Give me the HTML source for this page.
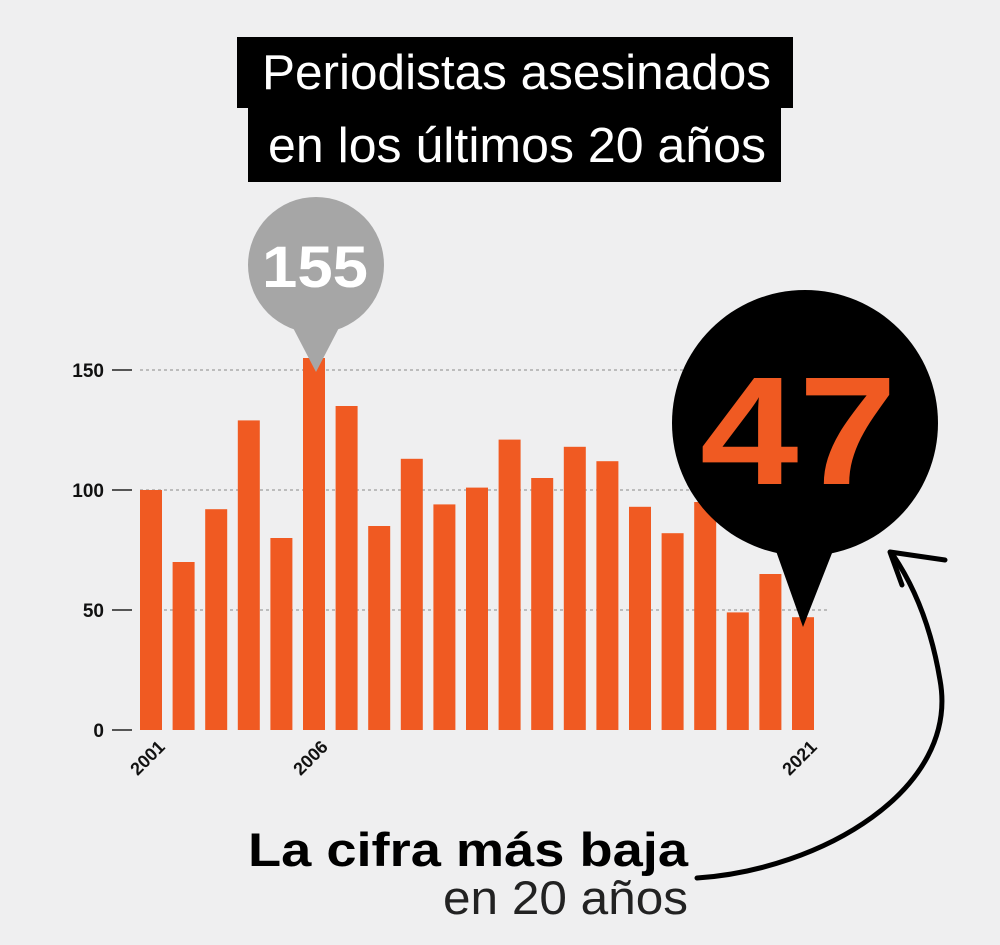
<!DOCTYPE html>
<html><head><meta charset="utf-8"><style>
body{margin:0;width:1000px;height:940px;background:#efeff0;overflow:hidden;font-family:"Liberation Sans",Arial,sans-serif}
</style></head><body>
<svg width="1000" height="940" viewBox="0 0 1000 940" xmlns="http://www.w3.org/2000/svg" font-family="Liberation Sans, Arial, sans-serif">
<rect x="0" y="0" width="1000" height="940" fill="#efeff0"/>
<rect x="237" y="37" width="556" height="71" fill="#000"/>
<rect x="248" y="108" width="533" height="74" fill="#000"/>
<text x="262" y="89" fill="#fff" font-size="49" textLength="509" lengthAdjust="spacingAndGlyphs">Periodistas asesinados</text>
<text x="268" y="162" fill="#fff" font-size="49" textLength="498" lengthAdjust="spacingAndGlyphs">en los últimos 20 años</text>
<g stroke="#888" stroke-width="1" stroke-dasharray="3,3">
<line x1="140" y1="370" x2="830" y2="370"/>
<line x1="140" y1="490" x2="830" y2="490"/>
<line x1="140" y1="610" x2="830" y2="610"/>
</g>
<g stroke="#555" stroke-width="2">
<line x1="112" y1="370" x2="132" y2="370"/>
<line x1="112" y1="490" x2="132" y2="490"/>
<line x1="112" y1="610" x2="132" y2="610"/>
<line x1="112" y1="730" x2="132" y2="730"/>
</g>
<g font-size="19" font-weight="bold" fill="#111" text-anchor="end">
<text x="104" y="377">150</text><text x="104" y="497">100</text><text x="104" y="617">50</text><text x="104" y="737">0</text>
</g>
<g fill="#f05a22" id="bars"></g>
<g font-size="18" font-weight="bold" fill="#111" text-anchor="end">
<text transform="translate(166,748) rotate(-45)">2001</text>
<text transform="translate(329,748) rotate(-45)">2006</text>
<text transform="translate(818,748) rotate(-45)">2021</text>
</g>
<circle cx="316" cy="265" r="68" fill="#a6a6a6"/>
<polygon points="290,322 342,322 316,372" fill="#a6a6a6"/>
<text x="262" y="287" fill="#fff" font-size="58" font-weight="bold" textLength="106" lengthAdjust="spacingAndGlyphs">155</text>
<circle cx="805" cy="423" r="133" fill="#000"/>
<polygon points="765,520 845,520 803,627" fill="#000"/>
<text x="700" y="484" fill="#f05a22" font-size="154" font-weight="bold" textLength="197" lengthAdjust="spacingAndGlyphs">47</text>
<path d="M697,878 C820,870 960,790 940,680 C930,620 910,580 893,555" fill="none" stroke="#000" stroke-width="5" stroke-linecap="round"/>
<path d="M902,585 L890,552 L945,560" fill="none" stroke="#000" stroke-width="5" stroke-linecap="round" stroke-linejoin="round"/>
<text x="248" y="866" fill="#000" font-size="47" font-weight="bold" textLength="440" lengthAdjust="spacingAndGlyphs">La cifra más baja</text>
<text x="443" y="914" fill="#222" font-size="47" textLength="245" lengthAdjust="spacingAndGlyphs">en 20 años</text>
</svg>
<script>
var v=[100,70,92,129,80,155,135,85,113,94,101,121,105,118,112,93,82,95,49,65,47];
var g=document.getElementById('bars'),ns='http://www.w3.org/2000/svg';
v.forEach(function(d,i){var r=document.createElementNS(ns,'rect');var x=140+i*32.6;var h=d*2.4;
r.setAttribute('x',x);r.setAttribute('y',730-h);r.setAttribute('width',22);r.setAttribute('height',h);g.appendChild(r);});
</script>
</body></html>
